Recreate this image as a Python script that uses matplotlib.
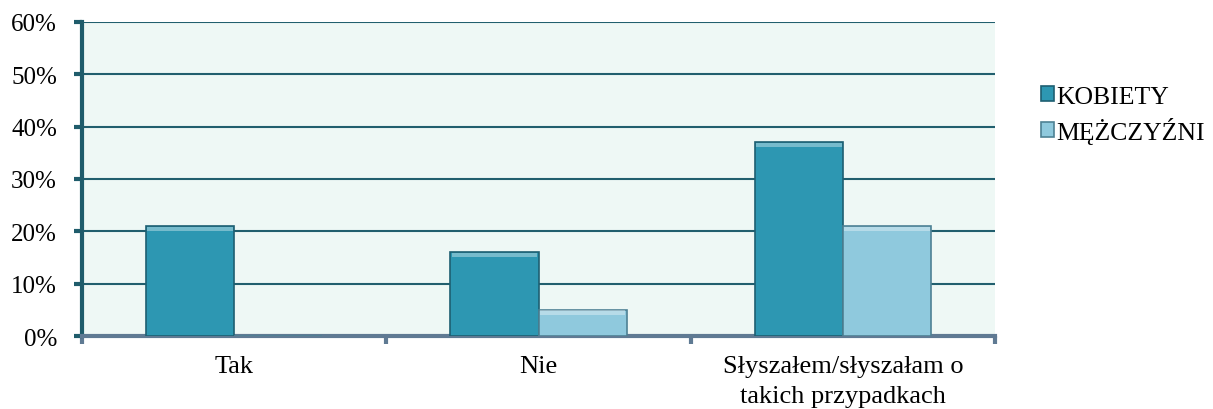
import matplotlib
matplotlib.use('Agg')
import matplotlib.pyplot as plt
import numpy as np

# dane
kategorie = ['Tak', 'Nie', 'Słyszałem/słyszałam o\ntakich przypadkach']
kobiety = [0.21, 0.16, 0.37]
mezczyzni = [0.0, 0.05, 0.21]
serie = ['KOBIETY', 'MĘŻCZYŹNI']

plt.rcParams['font.family'] = ['Liberation Serif', 'DejaVu Serif']

fig = plt.figure(figsize=(12.13, 4.10), dpi=100)
ax = fig.add_axes([0.0676, 0.178, 0.7527, 0.766])
ax.set_facecolor('#EEF8F5')

x = np.arange(len(kategorie))
w = 0.29
kolory = ['#2D97B2', '#8FC9DD']
krawedzie = ['#1E5F72', '#4E8194']

for vals, off, c, e, lab in zip([kobiety, mezczyzni], [-w / 2, w / 2], kolory, krawedzie, serie):
    bars = ax.bar(x + off, vals, w, color=c, edgecolor=e, linewidth=1.2,
                  label=lab, zorder=3)
    # jasny pasek u gory slupka (imitacja fazy)
    for b in bars:
        h = b.get_height()
        if h <= 0:
            continue
        ax.bar(b.get_x() + b.get_width() / 2, 0.008, b.get_width() * 0.97,
               bottom=h - 0.009, color='white', alpha=0.35, linewidth=0, zorder=4)

ax.set_xlim(-0.5, 2.5)
ax.set_ylim(0, 0.6)
ax.set_yticks(np.arange(0, 0.61, 0.1))
ax.set_yticklabels([f'{int(round(v * 100))}%' for v in np.arange(0, 0.61, 0.1)], fontsize=18)
ax.yaxis.grid(True, color='#215F6E', linewidth=1.5, zorder=0)
ax.set_axisbelow(True)

ax.set_xticks(x)
ax.set_xticklabels(kategorie, fontsize=19)
for t in ax.get_xticklabels():
    t.set_linespacing(1.45)
ax.tick_params(axis='x', length=0, pad=14)
ax.set_xticks([-0.5, 0.5, 1.5, 2.5], minor=True)
ax.tick_params(axis='x', which='minor', length=6, width=3, color='#5F7A93')
ax.tick_params(axis='y', length=6, width=3, color='#1F5C6B', pad=12)

for s in ['top', 'right']:
    ax.spines[s].set_visible(False)
ax.spines['left'].set_color('#1F5C6B')
ax.spines['left'].set_linewidth(3)
ax.spines['bottom'].set_color('#5F7A93')
ax.spines['bottom'].set_linewidth(3)

ax.legend(loc='center left', bbox_to_anchor=(1.025, 0.705), frameon=False,
          fontsize=18.5, handlelength=0.5, handleheight=0.5, handletextpad=0.1,
          labelspacing=0.35)

fig.savefig('out.png', dpi=100)
